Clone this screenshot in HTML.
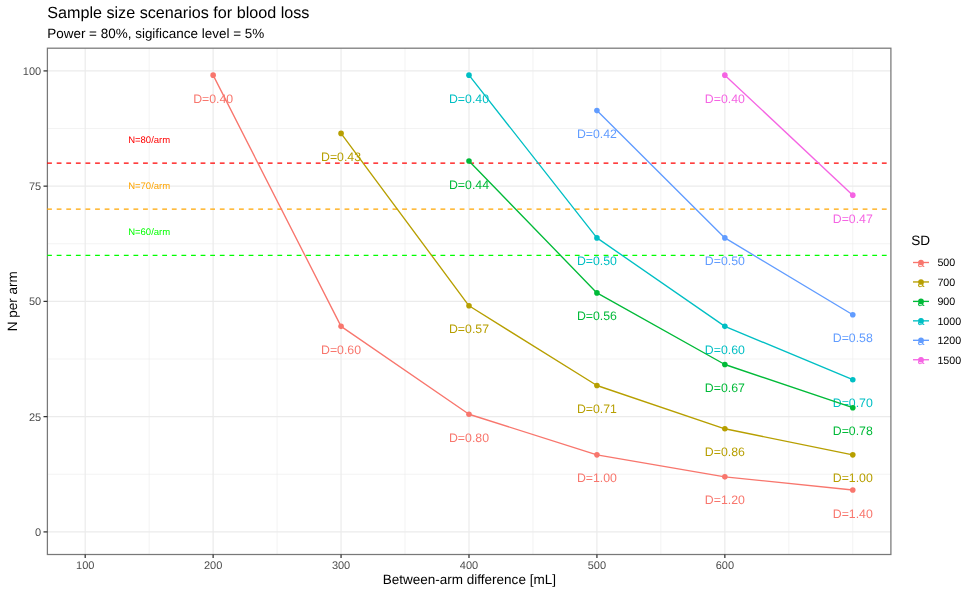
<!DOCTYPE html>
<html lang="en">
<head>
<meta charset="utf-8">
<title>Sample size scenarios for blood loss</title>
<style>
html,body{margin:0;padding:0;background:#fff;}
body{width:975px;height:594px;overflow:hidden;}
svg{display:block;}
text{font-family:"Liberation Sans",Arial,Helvetica,sans-serif;text-rendering:geometricPrecision;}
</style>
</head>
<body>
<svg width="975" height="594" viewBox="0 0 975 594">
<rect x="0" y="0" width="975" height="594" fill="#ffffff"/>
<rect x="47.4" y="48.2" width="843.5" height="506.3" fill="#ffffff"/>
<g stroke="#EBEBEB" stroke-width="0.6" fill="none">
<line x1="47.4" x2="890.9" y1="474.27" y2="474.27"/>
<line x1="47.4" x2="890.9" y1="359.02" y2="359.02"/>
<line x1="47.4" x2="890.9" y1="243.77" y2="243.77"/>
<line x1="47.4" x2="890.9" y1="128.52" y2="128.52"/>
<line x1="149.17" x2="149.17" y1="48.2" y2="554.5"/>
<line x1="277.1" x2="277.1" y1="48.2" y2="554.5"/>
<line x1="405.03" x2="405.03" y1="48.2" y2="554.5"/>
<line x1="532.96" x2="532.96" y1="48.2" y2="554.5"/>
<line x1="660.89" x2="660.89" y1="48.2" y2="554.5"/>
<line x1="788.82" x2="788.82" y1="48.2" y2="554.5"/>
<line x1="852.78" x2="852.78" y1="48.2" y2="554.5"/>
</g>
<g stroke="#EBEBEB" stroke-width="1.2" fill="none">
<line x1="47.4" x2="890.9" y1="531.9" y2="531.9"/>
<line x1="47.4" x2="890.9" y1="416.65" y2="416.65"/>
<line x1="47.4" x2="890.9" y1="301.4" y2="301.4"/>
<line x1="47.4" x2="890.9" y1="186.15" y2="186.15"/>
<line x1="47.4" x2="890.9" y1="70.9" y2="70.9"/>
<line x1="85.2" x2="85.2" y1="48.2" y2="554.5"/>
<line x1="213.13" x2="213.13" y1="48.2" y2="554.5"/>
<line x1="341.06" x2="341.06" y1="48.2" y2="554.5"/>
<line x1="468.99" x2="468.99" y1="48.2" y2="554.5"/>
<line x1="596.92" x2="596.92" y1="48.2" y2="554.5"/>
<line x1="724.85" x2="724.85" y1="48.2" y2="554.5"/>
</g>
<g fill="#F8766D" font-size="12.3" text-anchor="middle">
<text x="213.13" y="102.64">D=0.40</text>
<text x="341.06" y="353.84">D=0.60</text>
<text x="468.99" y="441.76">D=0.80</text>
<text x="596.92" y="482.37">D=1.00</text>
<text x="724.85" y="504.36">D=1.20</text>
<text x="852.78" y="517.54">D=1.40</text>
</g>
<g fill="#B79F00" font-size="12.3" text-anchor="middle">
<text x="341.06" y="160.91">D=0.43</text>
<text x="468.99" y="333.28">D=0.57</text>
<text x="596.92" y="412.99">D=0.71</text>
<text x="724.85" y="456.28">D=0.86</text>
<text x="852.78" y="482.37">D=1.00</text>
</g>
<g fill="#00BA38" font-size="12.3" text-anchor="middle">
<text x="468.99" y="188.57">D=0.44</text>
<text x="596.92" y="320.42">D=0.56</text>
<text x="724.85" y="392.01">D=0.67</text>
<text x="852.78" y="435.21">D=0.78</text>
</g>
<g fill="#00BFC4" font-size="12.3" text-anchor="middle">
<text x="468.99" y="102.64">D=0.40</text>
<text x="596.92" y="265.42">D=0.50</text>
<text x="724.85" y="353.84">D=0.60</text>
<text x="852.78" y="407.18">D=0.70</text>
</g>
<g fill="#619CFF" font-size="12.3" text-anchor="middle">
<text x="596.92" y="138.1">D=0.42</text>
<text x="724.85" y="265.42">D=0.50</text>
<text x="852.78" y="342.23">D=0.58</text>
</g>
<g fill="#F564E3" font-size="12.3" text-anchor="middle">
<text x="724.85" y="102.64">D=0.40</text>
<text x="852.78" y="222.64">D=0.47</text>
</g>
<rect x="47.4" y="48.2" width="843.5" height="506.3" fill="none" stroke="#787878" stroke-width="1.25"/>
<line x1="47.1" x2="890.9" y1="163.1" y2="163.1" stroke="#FF0000" stroke-width="1.25" stroke-dasharray="4.7975 4.7975"/>
<line x1="47.1" x2="890.9" y1="209.2" y2="209.2" stroke="#FFA500" stroke-width="1.25" stroke-dasharray="4.7975 4.7975"/>
<line x1="47.1" x2="890.9" y1="255.3" y2="255.3" stroke="#00FF00" stroke-width="1.25" stroke-dasharray="4.7975 4.7975"/>
<text x="149.17" y="143.15" font-size="9.5" fill="#FF0000" text-anchor="middle">N=80/arm</text>
<text x="149.17" y="189.25" font-size="9.5" fill="#FFA500" text-anchor="middle">N=70/arm</text>
<text x="149.17" y="235.35" font-size="9.5" fill="#00FF00" text-anchor="middle">N=60/arm</text>
<polyline points="213.13,75.14 341.06,326.34 468.99,414.25 596.92,454.87 724.85,476.86 852.78,490.04" fill="none" stroke="#F8766D" stroke-width="1.35" stroke-linejoin="round" stroke-linecap="butt"/>
<polyline points="341.06,133.41 468.99,305.78 596.92,385.49 724.85,428.77 852.78,454.87" fill="none" stroke="#B79F00" stroke-width="1.35" stroke-linejoin="round" stroke-linecap="butt"/>
<polyline points="468.99,161.07 596.92,292.92 724.85,364.51 852.78,407.71" fill="none" stroke="#00BA38" stroke-width="1.35" stroke-linejoin="round" stroke-linecap="butt"/>
<polyline points="468.99,75.14 596.92,237.92 724.85,326.34 852.78,379.68" fill="none" stroke="#00BFC4" stroke-width="1.35" stroke-linejoin="round" stroke-linecap="butt"/>
<polyline points="596.92,110.59 724.85,237.92 852.78,314.72" fill="none" stroke="#619CFF" stroke-width="1.35" stroke-linejoin="round" stroke-linecap="butt"/>
<polyline points="724.85,75.14 852.78,195.14" fill="none" stroke="#F564E3" stroke-width="1.35" stroke-linejoin="round" stroke-linecap="butt"/>
<g fill="#F8766D"><circle cx="213.13" cy="75.14" r="2.8"/><circle cx="341.06" cy="326.34" r="2.8"/><circle cx="468.99" cy="414.25" r="2.8"/><circle cx="596.92" cy="454.87" r="2.8"/><circle cx="724.85" cy="476.86" r="2.8"/><circle cx="852.78" cy="490.04" r="2.8"/></g>
<g fill="#B79F00"><circle cx="341.06" cy="133.41" r="2.8"/><circle cx="468.99" cy="305.78" r="2.8"/><circle cx="596.92" cy="385.49" r="2.8"/><circle cx="724.85" cy="428.77" r="2.8"/><circle cx="852.78" cy="454.87" r="2.8"/></g>
<g fill="#00BA38"><circle cx="468.99" cy="161.07" r="2.8"/><circle cx="596.92" cy="292.92" r="2.8"/><circle cx="724.85" cy="364.51" r="2.8"/><circle cx="852.78" cy="407.71" r="2.8"/></g>
<g fill="#00BFC4"><circle cx="468.99" cy="75.14" r="2.8"/><circle cx="596.92" cy="237.92" r="2.8"/><circle cx="724.85" cy="326.34" r="2.8"/><circle cx="852.78" cy="379.68" r="2.8"/></g>
<g fill="#619CFF"><circle cx="596.92" cy="110.59" r="2.8"/><circle cx="724.85" cy="237.92" r="2.8"/><circle cx="852.78" cy="314.72" r="2.8"/></g>
<g fill="#F564E3"><circle cx="724.85" cy="75.14" r="2.8"/><circle cx="852.78" cy="195.14" r="2.8"/></g>
<g stroke="#333333" stroke-width="1.25">
<line x1="43.5" x2="47.4" y1="531.9" y2="531.9"/>
<line x1="43.5" x2="47.4" y1="416.65" y2="416.65"/>
<line x1="43.5" x2="47.4" y1="301.4" y2="301.4"/>
<line x1="43.5" x2="47.4" y1="186.15" y2="186.15"/>
<line x1="43.5" x2="47.4" y1="70.9" y2="70.9"/>
<line x1="85.2" x2="85.2" y1="554.5" y2="558.1"/>
<line x1="213.13" x2="213.13" y1="554.5" y2="558.1"/>
<line x1="341.06" x2="341.06" y1="554.5" y2="558.1"/>
<line x1="468.99" x2="468.99" y1="554.5" y2="558.1"/>
<line x1="596.92" x2="596.92" y1="554.5" y2="558.1"/>
<line x1="724.85" x2="724.85" y1="554.5" y2="558.1"/>
</g>
<g fill="#4D4D4D" font-size="11.0">
<text x="41.2" y="535.84" text-anchor="end">0</text>
<text x="41.2" y="420.59" text-anchor="end">25</text>
<text x="41.2" y="305.34" text-anchor="end">50</text>
<text x="41.2" y="190.09" text-anchor="end">75</text>
<text x="41.2" y="74.84" text-anchor="end">100</text>
<text x="85.2" y="568.8" text-anchor="middle">100</text>
<text x="213.13" y="568.8" text-anchor="middle">200</text>
<text x="341.06" y="568.8" text-anchor="middle">300</text>
<text x="468.99" y="568.8" text-anchor="middle">400</text>
<text x="596.92" y="568.8" text-anchor="middle">500</text>
<text x="724.85" y="568.8" text-anchor="middle">600</text>
</g>
<text x="469.3" y="584" font-size="13.52" fill="#000" text-anchor="middle">Between-arm difference [mL]</text>
<text transform="translate(16.6,301.3) rotate(-90)" font-size="13.52" fill="#000" text-anchor="middle">N per arm</text>
<text x="47.2" y="18" font-size="16.17" fill="#000">Sample size scenarios for blood loss</text>
<text x="47.2" y="38.2" font-size="13.47" fill="#000">Power = 80%, sigificance level = 5%</text>
<text x="911.2" y="244.8" font-size="13.6" fill="#000">SD</text>
<g><line x1="913" x2="929" y1="262.5" y2="262.5" stroke="#F8766D" stroke-width="1.35"/><text x="920.9" y="267.1" font-size="12.3" fill="#F8766D" text-anchor="middle">a</text><circle cx="921" cy="262.5" r="2.8" fill="#F8766D"/><text x="937.4" y="266.33" font-size="10.7" fill="#000">500</text></g>
<g><line x1="913" x2="929" y1="281.95" y2="281.95" stroke="#B79F00" stroke-width="1.35"/><text x="920.9" y="286.55" font-size="12.3" fill="#B79F00" text-anchor="middle">a</text><circle cx="921" cy="281.95" r="2.8" fill="#B79F00"/><text x="937.4" y="285.78" font-size="10.7" fill="#000">700</text></g>
<g><line x1="913" x2="929" y1="301.4" y2="301.4" stroke="#00BA38" stroke-width="1.35"/><text x="920.9" y="306" font-size="12.3" fill="#00BA38" text-anchor="middle">a</text><circle cx="921" cy="301.4" r="2.8" fill="#00BA38"/><text x="937.4" y="305.23" font-size="10.7" fill="#000">900</text></g>
<g><line x1="913" x2="929" y1="320.85" y2="320.85" stroke="#00BFC4" stroke-width="1.35"/><text x="920.9" y="325.45" font-size="12.3" fill="#00BFC4" text-anchor="middle">a</text><circle cx="921" cy="320.85" r="2.8" fill="#00BFC4"/><text x="937.4" y="324.68" font-size="10.7" fill="#000">1000</text></g>
<g><line x1="913" x2="929" y1="340.3" y2="340.3" stroke="#619CFF" stroke-width="1.35"/><text x="920.9" y="344.9" font-size="12.3" fill="#619CFF" text-anchor="middle">a</text><circle cx="921" cy="340.3" r="2.8" fill="#619CFF"/><text x="937.4" y="344.13" font-size="10.7" fill="#000">1200</text></g>
<g><line x1="913" x2="929" y1="359.75" y2="359.75" stroke="#F564E3" stroke-width="1.35"/><text x="920.9" y="364.35" font-size="12.3" fill="#F564E3" text-anchor="middle">a</text><circle cx="921" cy="359.75" r="2.8" fill="#F564E3"/><text x="937.4" y="363.58" font-size="10.7" fill="#000">1500</text></g>
</svg>
</body>
</html>
